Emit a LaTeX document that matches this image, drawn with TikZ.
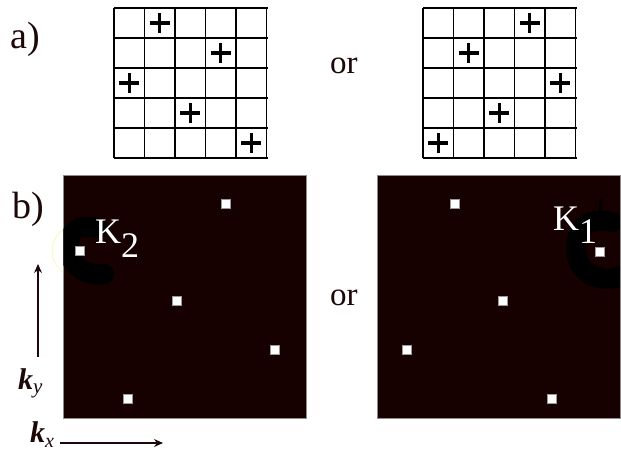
\documentclass[tikz,border=0pt]{standalone}
\usepackage{fontspec}
\setmainfont{Liberation Serif}
\usetikzlibrary{arrows.meta}
\definecolor{bgdark}{RGB}{22,0,0}
\definecolor{ink}{RGB}{28,8,8}
\definecolor{paleyellow}{RGB}{250,245,190}
\begin{document}
\begin{tikzpicture}[x=1pt,y=-1pt,
  gridline/.style={line width=1.4pt, black},
  pluscross/.style={line width=3.2pt, black},
  panel/.style={draw=black!45, line width=0.8pt, fill=bgdark, minimum width=243pt, minimum height=243pt, inner sep=0pt, anchor=north west},
  dot/.style={fill=white, draw=black!40, line width=0.5pt, minimum size=9pt, inner sep=0pt},
  blob/.style={draw=black, line cap=round, line join=round},
  axisarrow/.style={line width=1.1pt, draw=ink, -{Stealth[length=9pt,width=8pt]}},
  lbl/.style={inner sep=0pt, anchor=base west, text=ink},
  klbl/.style={inner sep=0pt, anchor=base west, text=white, font=\fontsize{36}{38}\selectfont}
]
\useasboundingbox (0,0) rectangle (621,453);
\fill[white] (0,0) rectangle (621,453);

% ---- a) grids ----
\foreach \gx in {114,423} {
  \foreach \i in {0,...,5} {
    \draw[gridline] ({\gx+\i*30.5},8) -- ({\gx+\i*30.5},158);
    \draw[gridline] (\gx,{8+\i*30}) -- ({\gx+154},{8+\i*30});
  }
}
\foreach \c/\r in {1/0,3/1,0/2,2/3,4/4} {
  \draw[pluscross] ({114+30.5*(\c+0.5)-10},{8+30*(\r+0.5)}) -- ({114+30.5*(\c+0.5)+10},{8+30*(\r+0.5)});
  \draw[pluscross] ({114+30.5*(\c+0.5)},{8+30*(\r+0.5)-10}) -- ({114+30.5*(\c+0.5)},{8+30*(\r+0.5)+10});
}
\foreach \c/\r in {3/0,1/1,4/2,2/3,0/4} {
  \draw[pluscross] ({423+30.5*(\c+0.5)-10},{8+30*(\r+0.5)}) -- ({423+30.5*(\c+0.5)+10},{8+30*(\r+0.5)});
  \draw[pluscross] ({423+30.5*(\c+0.5)},{8+30*(\r+0.5)-10}) -- ({423+30.5*(\c+0.5)},{8+30*(\r+0.5)+10});
}

\node[lbl, font=\fontsize{38}{40}\selectfont] (la) at (10,48) {a)};
\node[lbl, font=\fontsize{33}{35}\selectfont] (or1) at (330,73) {or};

% ---- b) panels ----
\draw[paleyellow, line width=0.8pt] (78,251) circle (26);
\node[panel] (pL) at (63,175) {};
\node[panel] (pR) at (377,175) {};

\begin{scope}
  \clip (63.4,175.4) rectangle (305.6,417.6);
  \draw[blob, line width=20pt] (98,228) .. controls (74,222) and (64,238) .. (70,256) .. controls (76,272) and (94,276) .. (104,274);
\end{scope}
\begin{scope}
  \clip (377.4,175.4) rectangle (619.6,417.6);
  \draw[blob, line width=3pt] (600,200) -- (600,218);
  \draw[blob, line width=20pt] (612,222) .. controls (580,214) and (572,240) .. (578,260) .. controls (584,278) and (606,282) .. (621,276);
\end{scope}

\node[dot] (l1) at (80,251) {};
\node[dot] (l2) at (226,204) {};
\node[dot] (l3) at (177,301) {};
\node[dot] (l4) at (275,350) {};
\node[dot] (l5) at (128,399) {};

\node[dot] (r1) at (455,204) {};
\node[dot] (r2) at (600,252) {};
\node[dot] (r3) at (503,301) {};
\node[dot] (r4) at (407,350) {};
\node[dot] (r5) at (552,399) {};

\node[klbl] (k2) at (95,243) {K\raisebox{-14pt}{2}};
\node[klbl] (k1) at (553,230) {K\raisebox{-13pt}{1}};

\node[lbl, font=\fontsize{38}{40}\selectfont] (lb) at (12,218) {b)};
\node[lbl, font=\fontsize{33}{35}\selectfont] (or2) at (330,305) {or};

% ---- axes ----
\coordinate (vyS) at (38,357);
\coordinate (vyE) at (38,264);
\draw[axisarrow] (vyS) -- (vyE);
\coordinate (hxS) at (60,443);
\coordinate (hxE) at (163,443);
\draw[axisarrow] (hxS) -- (hxE);

\node[lbl, font=\fontsize{30}{32}\selectfont\bfseries\itshape] (ky) at (18,389) {k\raisebox{-4pt}{\fontsize{21}{23}\selectfont\mdseries y}};
\node[lbl, font=\fontsize{30}{32}\selectfont\bfseries\itshape] (kx) at (30,442) {k\raisebox{-5pt}{\fontsize{20}{22}\selectfont\mdseries x}};
\end{tikzpicture}
\end{document}
